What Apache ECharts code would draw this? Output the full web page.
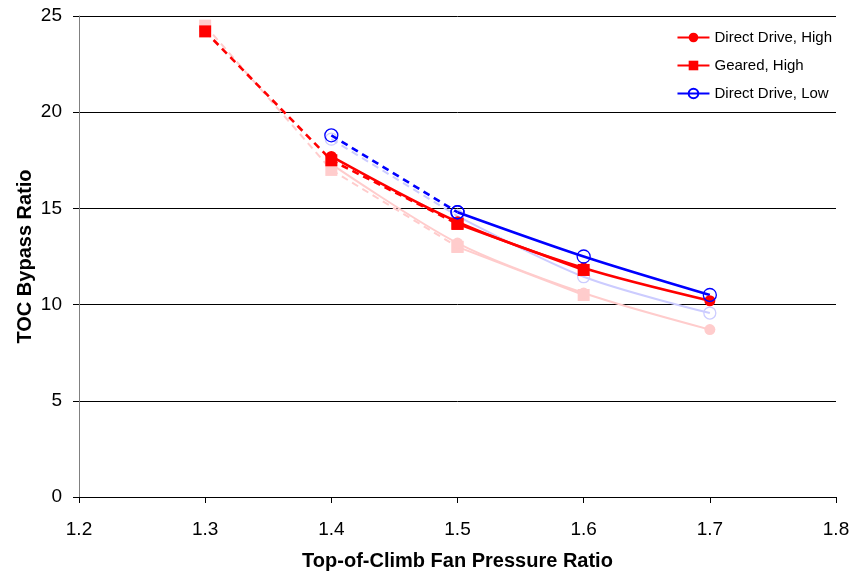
<!DOCTYPE html>
<html>
<head>
<meta charset="utf-8">
<script src="https://cdn.jsdelivr.net/npm/echarts@6/dist/echarts.min.js"></script>
<style>
html,body{margin:0;padding:0;background:#fff;}
#chart{width:852px;height:571px;}
</style>
</head>
<body>
<div id="chart"></div>
<script>
// ---- Data ----
const fanPressureRatio = [1.3, 1.4, 1.5, 1.6, 1.7];
const ddHigh        = [null, 17.7, 14.3, 11.9, 10.2];
const gearedHigh    = [24.2, 17.5, 14.2, 11.8, null];
const ddLow         = [null, 18.8, 14.8, 12.5, 10.5];
// faded reference curves (not in legend)
const ddHighRef     = [null, 17.3, 13.2, 10.6, 8.7];
const gearedHighRef = [24.5, 17.0, 13.0, 10.5, null];
const ddLowRef      = [null, 18.6, 14.6, 11.45, 9.56];
// index up to which the curve is drawn dashed
const gearedDashedTo = 2;
const ddLowDashedTo = 2;
const xTicks = [1.2, 1.3, 1.4, 1.5, 1.6, 1.7, 1.8];
const yTicks = [0, 5, 10, 15, 20, 25];
const legendNames = ['Direct Drive, High', 'Geared, High', 'Direct Drive, Low'];

function pts(vals, from, to) {
  const out = [];
  for (let i = 0; i < vals.length; i++) {
    if (i < from || i > to || vals[i] == null) continue;
    out.push([fanPressureRatio[i], vals[i]]);
  }
  return out;
}

function mk(name, vals, from, to, opt) {
  return Object.assign({
    name: name,
    type: 'line',
    data: pts(vals, from, to),
    smooth: 0.3,
    showAllSymbol: true
  }, opt);
}

const RED = '#ff0000', BLUE = '#0000ff', PINK = '#ffcccc', LBLUE = '#ccccff';

function styleCircle(c, w, size) {
  return { symbol: 'circle', symbolSize: size, itemStyle: { color: c }, lineStyle: { color: c, width: w } };
}
function styleSquare(c, w, size) {
  return { symbol: 'rect', symbolSize: size, itemStyle: { color: c }, lineStyle: { color: c, width: w } };
}
function styleOpen(c, w, size) {
  return { symbol: 'circle', symbolSize: size, itemStyle: { color: 'rgba(0,0,0,0)', borderColor: c, borderWidth: 1.3 }, lineStyle: { color: c, width: w } };
}
function dashed(s) { s.lineStyle = Object.assign({}, s.lineStyle, { type: [7, 5] }); s.smooth = false; return s; }

const series = [];
// faded reference curves
series.push(mk('ref1', gearedHighRef, 0, gearedDashedTo, dashed(styleSquare(PINK, 2, 12))));
series.push(mk('ref2', gearedHighRef, gearedDashedTo, 9, styleSquare(PINK, 2, 12)));
series.push(mk('ref3', ddHighRef, 0, 9, styleCircle(PINK, 2, 11)));
series.push(mk('ref4', ddLowRef, 0, ddLowDashedTo, dashed(styleOpen(LBLUE, 2, 12))));
series.push(mk('ref5', ddLowRef, ddLowDashedTo, 9, styleOpen(LBLUE, 2, 12)));
// main curves
series.push(mk('Geared, High', gearedHigh, gearedDashedTo, 9, styleSquare(RED, 2.6, 12)));
series.push(mk('Geared, High', gearedHigh, 0, gearedDashedTo, dashed(styleSquare(RED, 2.6, 12))));
series.push(mk('Direct Drive, High', ddHigh, 0, 9, styleCircle(RED, 2.6, 11)));
series.push(mk('Direct Drive, Low', ddLow, ddLowDashedTo, 9, styleOpen(BLUE, 2.6, 13)));
series.push(mk('Direct Drive, Low', ddLow, 0, ddLowDashedTo, dashed(styleOpen(BLUE, 2.6, 13))));
series.forEach((s, i) => { s.z = i < 5 ? 2 : 3; });

const FONT = 'Liberation Sans, Arial, sans-serif';
const chart = echarts.init(document.getElementById('chart'));
chart.setOption({
  animation: false,
  backgroundColor: '#fff',
  grid: { left: 79, right: 16, top: 16, bottom: 74, containLabel: false, outerBoundsMode: 'none' },
  legend: {
    data: legendNames.map(n => ({ name: n, lineStyle: { type: 'solid' } })),
    orient: 'vertical',
    right: 15,
    top: 25,
    itemWidth: 32,
    itemHeight: 12,
    itemGap: 13,
    textStyle: { fontFamily: FONT, fontSize: 15, color: '#000' }
  },
  xAxis: {
    type: 'value',
    min: xTicks[0],
    max: xTicks[xTicks.length - 1],
    interval: 0.1,
    name: 'Top-of-Climb Fan Pressure Ratio',
    nameLocation: 'middle',
    nameGap: 54,
    nameMoveOverlap: false,
    nameTextStyle: { fontFamily: FONT, fontSize: 20, fontWeight: 'bold', color: '#000' },
    axisLine: { show: true, lineStyle: { color: '#000', width: 1 } },
    axisTick: { show: true, length: 6, lineStyle: { color: '#000' } },
    axisLabel: { fontFamily: FONT, fontSize: 19, color: '#000', margin: 23,
      formatter: v => (Math.round(v * 10) / 10).toFixed(1) },
    splitLine: { show: false }
  },
  yAxis: {
    type: 'value',
    min: yTicks[0],
    max: yTicks[yTicks.length - 1],
    interval: 5,
    name: 'TOC Bypass Ratio',
    nameLocation: 'middle',
    nameGap: 44,
    nameMoveOverlap: false,
    nameTextStyle: { fontFamily: FONT, fontSize: 20, fontWeight: 'bold', color: '#000' },
    axisLine: { show: true, lineStyle: { color: '#808080', width: 1 } },
    axisTick: { show: true, length: 6, lineStyle: { color: '#000' } },
    axisLabel: { fontFamily: FONT, fontSize: 19, color: '#000', margin: 17 },
    splitLine: { show: true, lineStyle: { color: '#000', width: 1 } }
  },
  series: series
});
</script>
</body>
</html>
